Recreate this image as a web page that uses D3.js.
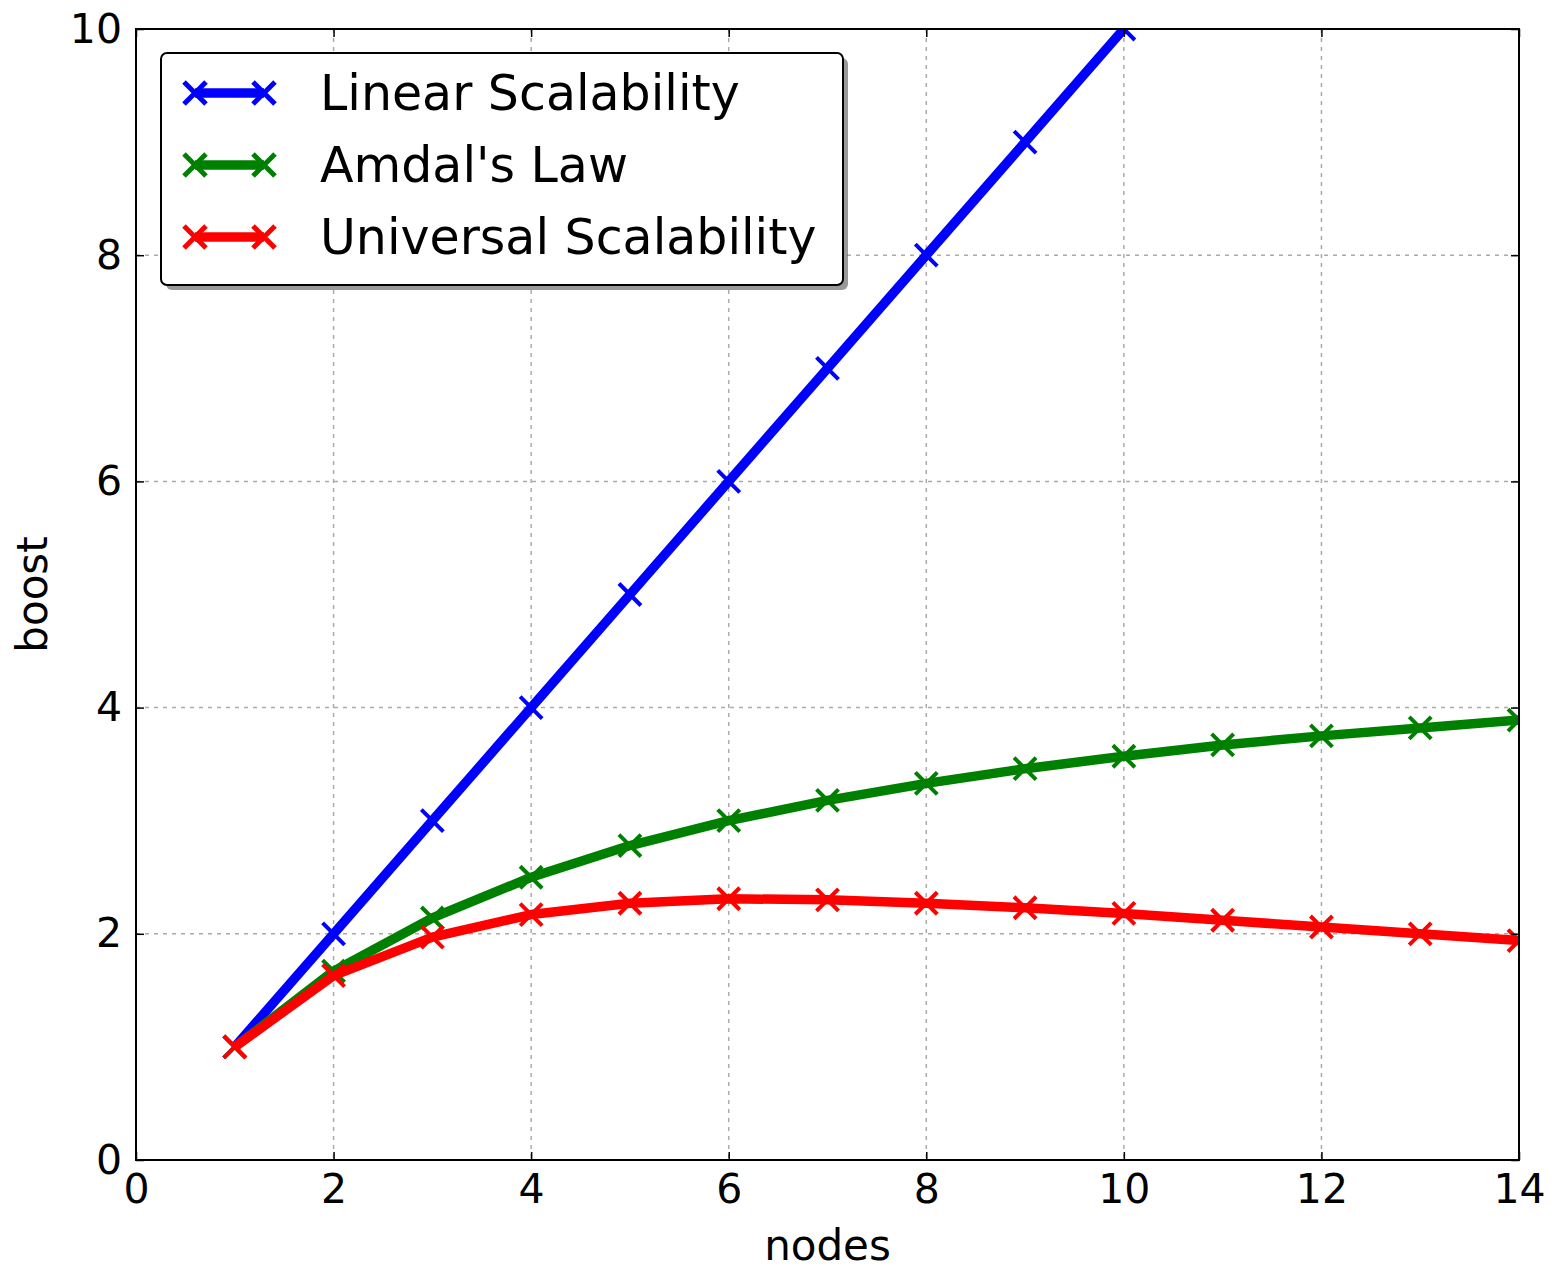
<!DOCTYPE html>
<html>
<head>
<meta charset="utf-8">
<script src="https://cdn.jsdelivr.net/npm/d3@7"></script>
<style>
  body { margin: 0; background: #fff; }
  text { font-family: 'DejaVu Sans', sans-serif; fill: #000; }
</style>
</head>
<body>
<div id="chart"></div>
<script>
'use strict';

var nodes = [1, 2, 3, 4, 5, 6, 7, 8, 9, 10, 11, 12, 13, 14];
var linearBoost = [1, 2, 3, 4, 5, 6, 7, 8, 9, 10];
var amdahlBoost = [1, 1.67, 2.14, 2.5, 2.78, 3.0, 3.18, 3.33, 3.46, 3.57, 3.67, 3.75, 3.82, 3.89];
var universalBoost = [1, 1.63, 1.97, 2.17, 2.27, 2.31, 2.30, 2.27, 2.23, 2.18, 2.12, 2.06, 2.0, 1.94];
var seriesNames = ['Linear Scalability', "Amdal's Law", 'Universal Scalability'];
var seriesColors = ['#0000ff', '#008000', '#ff0000'];
var xTicks = [0, 2, 4, 6, 8, 10, 12, 14];
var yTicks = [0, 2, 4, 6, 8, 10];

var w = 1562, h = 1269;
var plotLeft = 136, plotRight = 1519, plotTop = 29, plotBottom = 1160;

var svg = d3.select('#chart').append('svg')
  .attr('width', w)
  .attr('height', h);

var x = d3.scaleLinear().domain([0, 14]).range([plotLeft, plotRight]);
var y = d3.scaleLinear().domain([0, 10]).range([plotBottom, plotTop]);

svg.append('defs').append('clipPath')
  .attr('id', 'plot-clip')
  .append('rect')
  .attr('x', plotLeft)
  .attr('y', plotTop)
  .attr('width', plotRight - plotLeft)
  .attr('height', plotBottom - plotTop);

// grid
var grid = svg.append('g');
xTicks.forEach(function(t) {
  grid.append('line')
    .attr('x1', x(t)).attr('x2', x(t))
    .attr('y1', plotTop).attr('y2', plotBottom)
    .attr('stroke', '#aaa').attr('stroke-width', 1.5)
    .attr('stroke-dasharray', '4,5');
});
yTicks.forEach(function(t) {
  grid.append('line')
    .attr('x1', plotLeft).attr('x2', plotRight)
    .attr('y1', y(t)).attr('y2', y(t))
    .attr('stroke', '#aaa').attr('stroke-width', 1.5)
    .attr('stroke-dasharray', '4,5');
});

// series
var allSeries = [linearBoost, amdahlBoost, universalBoost];
var plot = svg.append('g').attr('clip-path', 'url(#plot-clip)');
var line = d3.line()
  .x(function(d, i) { return x(nodes[i]); })
  .y(function(d) { return y(d); });

function drawX(g, cx, cy, r, color, sw) {
  g.append('path')
    .attr('d', 'M' + (cx - r) + ',' + (cy - r) + 'L' + (cx + r) + ',' + (cy + r) +
      'M' + (cx - r) + ',' + (cy + r) + 'L' + (cx + r) + ',' + (cy - r))
    .attr('stroke', color)
    .attr('stroke-width', sw)
    .attr('fill', 'none');
}

allSeries.forEach(function(vals, s) {
  plot.append('path')
    .datum(vals)
    .attr('d', line)
    .attr('fill', 'none')
    .attr('stroke', seriesColors[s])
    .attr('stroke-width', 9.5)
    .attr('stroke-linejoin', 'round');
  vals.forEach(function(v, i) {
    drawX(plot, x(nodes[i]), y(v), 11, seriesColors[s], 4);
  });
});

// axes frame and ticks
var xAxis = d3.axisBottom(x).tickValues(xTicks).tickSize(-8).tickPadding(14).tickFormat(d3.format('d'));
var yAxis = d3.axisLeft(y).tickValues(yTicks).tickSize(-8).tickPadding(14).tickFormat(d3.format('d'));
var gx = svg.append('g').attr('transform', 'translate(0,' + plotBottom + ')').call(xAxis);
var gy = svg.append('g').attr('transform', 'translate(' + plotLeft + ',0)').call(yAxis);
var gxTop = svg.append('g').attr('transform', 'translate(0,' + plotTop + ')')
  .call(d3.axisTop(x).tickValues(xTicks).tickSize(-8).tickFormat(''));
var gyRight = svg.append('g').attr('transform', 'translate(' + plotRight + ',0)')
  .call(d3.axisRight(y).tickValues(yTicks).tickSize(-8).tickFormat(''));
[gx, gy, gxTop, gyRight].forEach(function(g) {
  g.select('.domain').remove();
  g.selectAll('.tick line').attr('stroke', '#000').attr('stroke-width', 1.5);
  g.selectAll('.tick text').style('font-family', "'DejaVu Sans', sans-serif").attr('font-size', 41).attr('fill', '#000');
});
gx.selectAll('.tick text').attr('dy', '0.71em');

svg.append('rect')
  .attr('x', plotLeft).attr('y', plotTop)
  .attr('width', plotRight - plotLeft).attr('height', plotBottom - plotTop)
  .attr('fill', 'none').attr('stroke', '#000').attr('stroke-width', 2);

// axis labels
svg.append('text')
  .attr('x', (plotLeft + plotRight) / 2)
  .attr('y', 1260)
  .attr('text-anchor', 'middle')
  .attr('font-size', 42)
  .text('nodes');
svg.append('text')
  .attr('transform', 'translate(47,' + (plotTop + plotBottom) / 2 + ') rotate(-90)')
  .attr('text-anchor', 'middle')
  .attr('font-size', 42)
  .text('boost');

// legend
var legend = svg.append('g');
legend.append('rect')
  .attr('x', 166).attr('y', 58).attr('width', 682).attr('height', 232)
  .attr('rx', 6).attr('fill', '#555').attr('opacity', 0.6);
legend.append('rect')
  .attr('x', 161).attr('y', 53).attr('width', 682).attr('height', 232)
  .attr('rx', 6).attr('fill', '#fff').attr('stroke', '#000').attr('stroke-width', 2);

seriesNames.forEach(function(name, s) {
  var ly = 93 + s * 72;
  legend.append('line')
    .attr('x1', 195).attr('x2', 264)
    .attr('y1', ly).attr('y2', ly)
    .attr('stroke', seriesColors[s]).attr('stroke-width', 9.5);
  drawX(legend, 195, ly, 11, seriesColors[s], 5);
  drawX(legend, 264, ly, 11, seriesColors[s], 5);
  legend.append('text')
    .attr('x', 320)
    .attr('y', ly + 17)
    .attr('font-size', 49)
    .text(name);
});
</script>
</body>
</html>
